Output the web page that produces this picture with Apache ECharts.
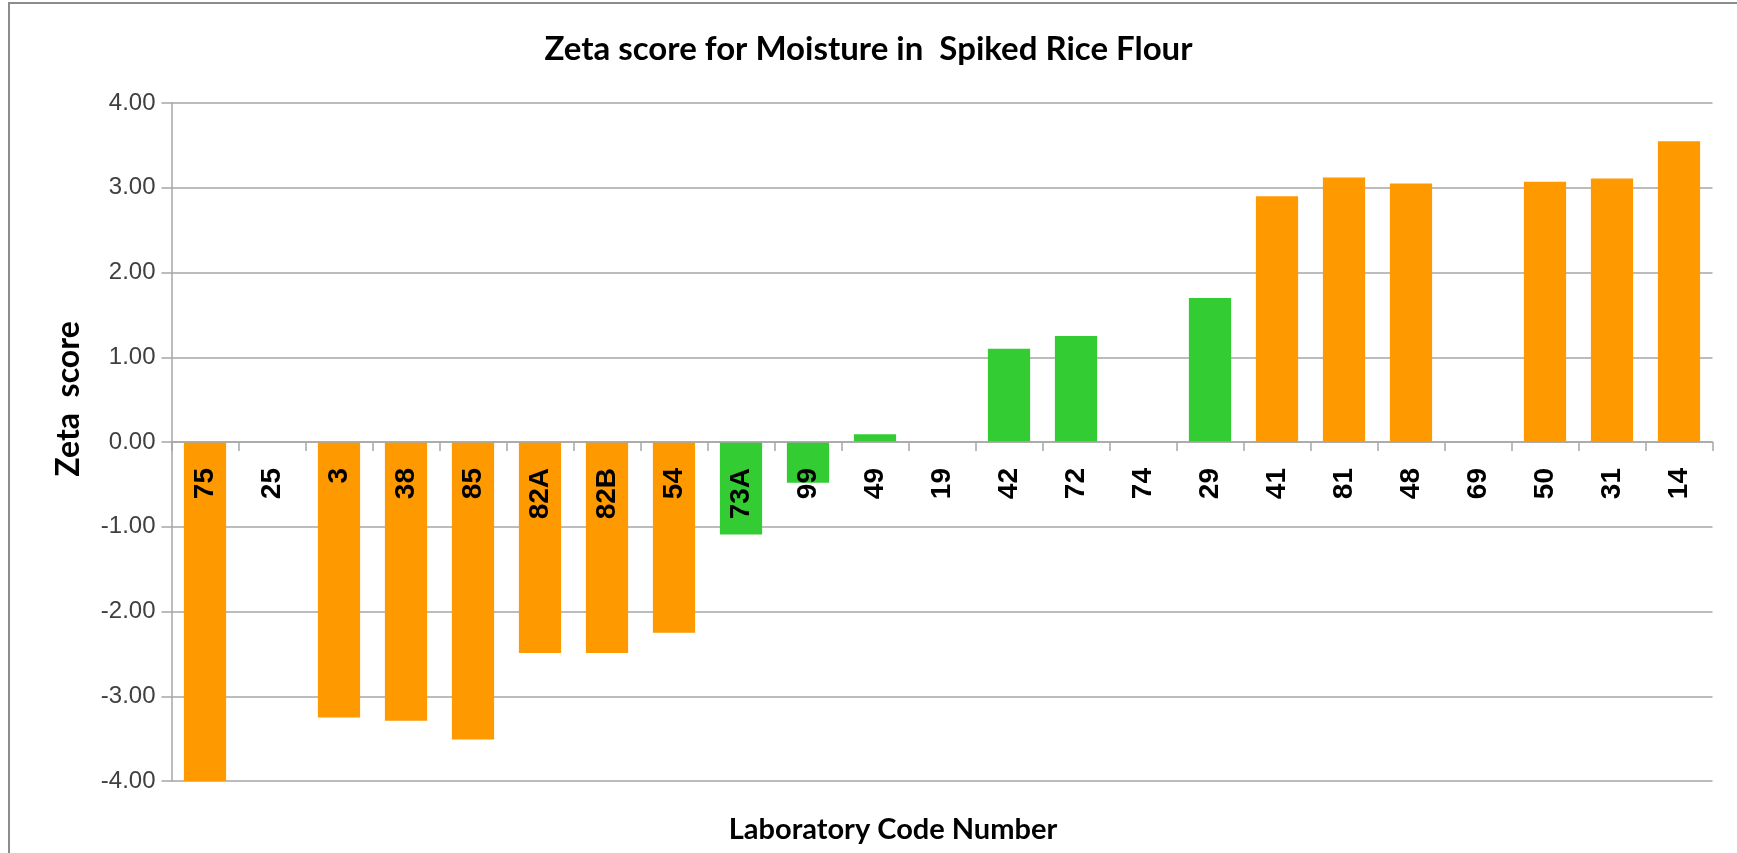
<!DOCTYPE html>
<html>
<head>
<meta charset="utf-8">
<script src="https://cdn.jsdelivr.net/npm/echarts@6/dist/echarts.min.js"></script>
<style>
html,body{margin:0;padding:0;background:#fff;}
#chart{width:1737px;height:853px;}
</style>
</head>
<body>
<div id="chart"></div>
<script>
// ---- data ----
const categories = ['75','25','3','38','85','82A','82B','54','73A','99','49','19','42','72','74','29','41','81','48','69','50','31','14'];
const zetaScores = [-4.02, null, -3.25, -3.29, -3.51, -2.49, -2.49, -2.25, -1.09, -0.48, 0.09, null, 1.10, 1.25, null, 1.70, 2.90, 3.12, 3.05, null, 3.07, 3.11, 3.55];
const yMin = -4, yMax = 4, yStep = 1;
const titleText = 'Zeta score for Moisture in  Spiked Rice Flour';
const xAxisTitle = 'Laboratory Code Number';
const yAxisTitle = 'Zeta  score';

const ORANGE = '#FF9900';
const GREEN = '#33CC33';
const GRID = '#A6A6A6';

const gridTop = 103, gridBottom = 72, chartH = 853;
const plotH = chartH - gridTop - gridBottom;
// place the category axis on the zero line of the value axis
const zeroOffset = -plotH * (0 - yMin) / (yMax - yMin);

const barData = zetaScores.map(v => v === null ? '-' : {
  value: v,
  itemStyle: { color: Math.abs(v) > 2 ? ORANGE : GREEN }
});

const chart = echarts.init(document.getElementById('chart'), null, { renderer: 'canvas' });
chart.setOption({
  animation: false,
  backgroundColor: '#fff',
  title: [{
    text: titleText,
    left: 'center',
    top: 33,
    padding: 0,
    textStyle: { fontFamily: 'Lato', fontWeight: 'bold', fontSize: 33, color: '#000' }
  }, {
    text: xAxisTitle,
    left: 893,
    textAlign: 'center',
    top: 815,
    padding: 0,
    textStyle: { fontFamily: 'Lato', fontWeight: 'bold', fontSize: 29, color: '#000' }
  }],
  grid: { left: 171.5, right: 24.5, top: gridTop, bottom: gridBottom, containLabel: false },
  xAxis: {
    type: 'category',
    data: categories,
    z: 10,
    offset: zeroOffset,
    axisLine: { onZero: false, lineStyle: { color: GRID, width: 1.5 } },
    axisTick: { show: true, interval: 0, length: 9, lineStyle: { color: GRID, width: 1.5 } },
    axisLabel: {
      interval: 0, rotate: 90, margin: 26,
      fontFamily: 'Liberation Sans', fontWeight: 'bold', fontSize: 28, color: '#000'
    },
    splitLine: { show: false }
  },
  yAxis: {
    type: 'value',
    min: yMin, max: yMax, interval: yStep,
    axisLine: { show: true, lineStyle: { color: GRID, width: 1.5 } },
    axisTick: { show: true, length: 10, lineStyle: { color: GRID, width: 1.5 } },
    axisLabel: {
      margin: 16,
      formatter: v => v.toFixed(2),
      fontFamily: 'Liberation Sans', fontSize: 24, color: '#404040'
    },
    splitLine: { show: true, lineStyle: { color: GRID, width: 1.5 } }
  },
  series: [{
    type: 'bar',
    data: barData,
    barCategoryGap: '37%'
  }],
  graphic: [{
    type: 'rect',
    shape: { x: 9, y: 3, width: 1760, height: 880 },
    style: { fill: 'none', stroke: '#8C8C8C', lineWidth: 2 },
    silent: true
  }, {
    type: 'text',
    x: 69, y: 399,
    rotation: Math.PI / 2,
    style: {
      text: yAxisTitle,
      font: 'bold 32px Lato',
      align: 'center', verticalAlign: 'middle',
      textAlign: 'center', textVerticalAlign: 'middle',
      fill: '#000'
    }
  }]
});
</script>
</body>
</html>
